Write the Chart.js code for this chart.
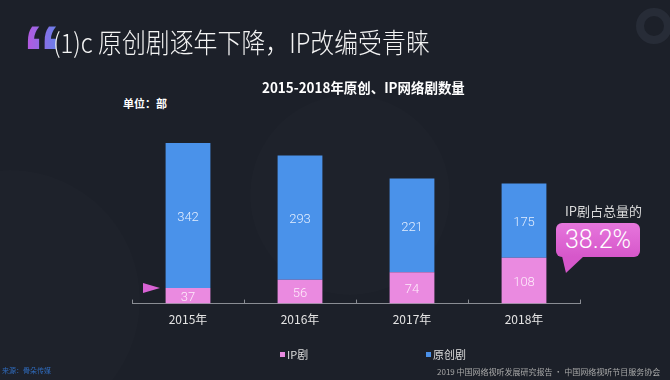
<!DOCTYPE html>
<html><head><meta charset="utf-8">
<script src="https://cdn.jsdelivr.net/npm/chart.js@4.4.0/dist/chart.umd.min.js"></script>
<style>
html,body{margin:0;padding:0;}
body{width:670px;height:380px;background:#1c2029;position:relative;overflow:hidden;font-family:"Noto Sans CJK SC","Noto Sans",sans-serif;}
.abs{position:absolute;white-space:nowrap;}
#bg1{left:-120px;top:170px;width:260px;height:260px;border-radius:50%;background:rgba(255,255,255,0.012);}
#bg2{left:250px;top:95px;width:200px;height:200px;border-radius:50%;background:rgba(255,255,255,0.012);}
#ring{left:636px;top:8px;width:20px;height:20px;border-radius:50%;border:8px solid #272c37;}
#quote{left:22px;top:14px;font-family:"Liberation Sans",sans-serif;font-weight:bold;font-size:80px;line-height:80px;background:linear-gradient(90deg,#c152de,#5b87ec);-webkit-background-clip:text;background-clip:text;color:transparent;}
#title{left:53px;top:25px;font-size:27px;line-height:34px;color:#f4f4f4;font-weight:300;transform:scaleX(0.885);transform-origin:left top;}
#subtitle{left:262px;top:77px;font-size:14px;line-height:20px;color:#ffffff;font-weight:bold;transform:scaleX(0.96);transform-origin:left top;}
#unit{left:123px;top:96px;font-size:11px;line-height:14px;color:#ffffff;font-weight:bold;}
#pct-label{left:565px;top:203px;font-size:13px;line-height:16px;color:#dcdcdc;}
#box{left:556px;top:223px;width:84px;height:34px;border-radius:6px;background:linear-gradient(180deg,#e676dc,#d657ca);color:#fff;font-family:Roboto,"Noto Sans",sans-serif;font-weight:300;font-size:25px;line-height:34px;text-align:center;}
#tail{left:562px;top:256px;width:22px;height:17px;background:#d657ca;clip-path:polygon(0 0,100% 0,18% 100%);}
#arrow{left:143px;top:283px;width:17px;height:10px;background:#d862d4;clip-path:polygon(0 0,100% 50%,0 100%);}
.leg{top:347px;font-size:11px;line-height:14px;color:#dddddd;}
.sq{display:inline-block;width:5px;height:5px;margin-right:2px;vertical-align:2px;}
#src{left:2px;top:366px;font-size:7px;line-height:9px;color:#2f6bbd;}
#foot{left:437px;top:367px;font-size:8px;line-height:10px;color:#a8a8a8;}
canvas{position:absolute;left:0;top:0;}
</style></head><body>
<div class="abs" id="bg1"></div>
<div class="abs" id="bg2"></div>
<div class="abs" id="ring"></div>
<div class="abs" id="quote">“</div>
<div class="abs" id="title">(1)c 原创剧逐年下降，IP改编受青睐</div>
<div class="abs" id="subtitle">2015-2018年原创、IP网络剧数量</div>
<div class="abs" id="unit">单位：部</div>
<div style="position:absolute;left:0;top:0;width:670px;height:380px;"><canvas id="c" width="670" height="380"></canvas></div>
<div class="abs" id="arrow"></div>
<div class="abs" id="pct-label">IP剧占总量的</div>
<div class="abs" id="tail"></div>
<div class="abs" id="box"></div>
<div class="abs leg" id="leg1" style="left:280px;"><span class="sq" style="background:#e88ae0"></span>IP剧</div>
<div class="abs leg" id="leg2" style="left:426px;"><span class="sq" style="background:#4a90e8"></span>原创剧</div>
<div class="abs" id="src">来源：骨朵传媒</div>
<div class="abs" id="foot">2019 中国网络视听发展研究报告 · 中国网络视听节目服务协会</div>
<script>
const categories = ['2015年','2016年','2017年','2018年'];
const ipValues = [37, 56, 74, 108];
const originalValues = [342, 293, 221, 175];
const seriesNames = ['IP剧', '原创剧'];
const seriesColors = ['#ea8ae0', '#4a92ea'];

const last = ipValues.length - 1;
document.getElementById('box').textContent =
  (ipValues[last] / (ipValues[last] + originalValues[last]) * 100).toFixed(1) + '%';

const valueLabels = {
  id: 'valueLabels',
  afterDatasetsDraw(chart) {
    const ctx = chart.ctx;
    ctx.save();
    ctx.font = '300 13px Roboto, "Noto Sans", sans-serif';
    ctx.textAlign = 'center';
    ctx.textBaseline = 'middle';
    chart.data.datasets.forEach((ds, di) => {
      const meta = chart.getDatasetMeta(di);
      meta.data.forEach((bar, i) => {
        const p = bar.getProps(['x', 'y', 'base'], true);
        ctx.fillStyle = di === 0 ? 'rgba(255,240,252,0.95)' : 'rgba(235,242,255,0.95)';
        ctx.fillText(String(ds.data[i]), p.x, (p.y + p.base) / 2 + 2);
      });
    });
    ctx.restore();
  }
};

new Chart(document.getElementById('c'), {
  type: 'bar',
  data: {
    labels: categories,
    datasets: [
      { label: seriesNames[0], data: ipValues, backgroundColor: seriesColors[0], barPercentage: 0.4, categoryPercentage: 1.0 },
      { label: seriesNames[1], data: originalValues, backgroundColor: seriesColors[1], barPercentage: 0.4, categoryPercentage: 1.0 }
    ]
  },
  options: {
    responsive: false,
    animation: false,
    layout: { padding: { left: 132, right: 90, top: 134, bottom: 40 } },
    plugins: { legend: { display: false }, tooltip: { enabled: false } },
    scales: {
      x: {
        stacked: true,
        grid: { offset: true, drawOnChartArea: false, tickLength: -4, color: '#8a8d94' },
        border: { color: '#8a8d94' },
        ticks: { color: '#e4e4e4', padding: 13, font: { size: 12, family: '"Noto Sans CJK SC", sans-serif' } }
      },
      y: { stacked: true, display: false, min: 0, max: 400 }
    }
  },
  plugins: [valueLabels]
});
</script>
</body></html>
